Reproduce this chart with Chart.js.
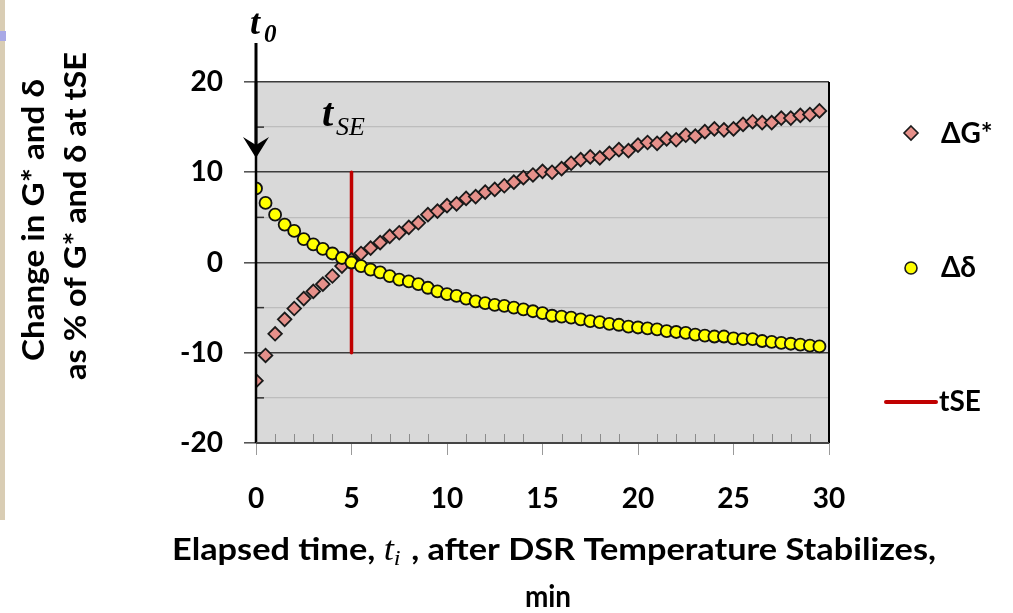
<!DOCTYPE html>
<html>
<head>
<meta charset="utf-8">
<script src="https://cdn.jsdelivr.net/npm/chart.js@4/dist/chart.umd.min.js"></script>
<style>
html,body{margin:0;padding:0;background:#fff;}
#wrap{position:relative;width:1013px;height:613px;}
#strip{position:absolute;left:0;top:0;width:5px;height:520px;background:#d9cdb4;}
#blip{position:absolute;left:0;top:31px;width:6px;height:10px;background:#a9a9e6;}
canvas{position:absolute;left:0;top:0;}
</style>
</head>
<body>
<div id="wrap">
<div id="strip"></div><div id="blip"></div>
<canvas id="c" width="1013" height="613"></canvas>
</div>
<script>
const times = [0,0.5,1,1.5,2,2.5,3,3.5,4,4.5,5,5.5,6,6.5,7,7.5,8,8.5,9,9.5,
  10,10.5,11,11.5,12,12.5,13,13.5,14,14.5,15,15.5,16,16.5,17,17.5,18,18.5,19,19.5,
  20,20.5,21,21.5,22,22.5,23,23.5,24,24.5,25,25.5,26,26.5,27,27.5,28,28.5,29,29.5];
const deltaG = [-13.1,-10.3,-7.9,-6.3,-5.1,-4.0,-3.2,-2.4,-1.5,-0.4,0.3,1.0,1.6,2.2,2.9,3.3,3.9,4.4,5.3,5.7,
  6.3,6.5,7.1,7.3,7.8,8.1,8.5,8.9,9.4,9.7,10.1,10.0,10.4,11.0,11.4,11.7,11.6,12.1,12.5,12.4,
  13.0,13.3,13.2,13.7,13.6,14.1,14.0,14.5,14.8,14.7,14.8,15.3,15.6,15.5,15.5,16.0,16.0,16.3,16.4,16.8];
const deltaDelta = [8.2,6.6,5.3,4.2,3.5,2.6,2.0,1.5,1.0,0.5,0.0,-0.4,-0.8,-1.1,-1.5,-1.9,-2.1,-2.4,-2.8,-3.2,
  -3.5,-3.7,-4.0,-4.3,-4.5,-4.7,-4.8,-5.0,-5.2,-5.4,-5.6,-5.9,-6.0,-6.1,-6.3,-6.5,-6.6,-6.8,-6.9,-7.1,
  -7.2,-7.3,-7.4,-7.6,-7.7,-7.8,-8.0,-8.1,-8.2,-8.2,-8.4,-8.5,-8.5,-8.7,-8.8,-8.9,-9.0,-9.1,-9.2,-9.3];
const tseTime = [5,5];
const tseRange = [-10,10];
const xTicks = [0,5,10,15,20,25,30];
const yTicks = [-20,-10,0,10,20];
const seriesNames = ['\u0394G*','\u0394\u03b4','tSE'];

const FONT = 'Lato, "Open Sans", sans-serif';
const SERIF = '"Liberation Serif", "DejaVu Serif", serif';

function pts(xs, ys){ return xs.map((x,i)=>({x:x,y:ys[i]})); }

function drawSegments(ctx, segs, cx, baseY, targetW){
  let w = 0;
  segs.forEach(s=>{ ctx.font = s.font; s.w = ctx.measureText(s.text).width; w += s.w + (s.gap||0); });
  const sx = targetW ? targetW / w : 1;
  ctx.save();
  ctx.translate(cx - (w*sx)/2, baseY);
  ctx.scale(sx, 1);
  let x = 0;
  segs.forEach(s=>{ ctx.font = s.font; ctx.fillText(s.text, x, s.dy||0); x += s.w + (s.gap||0); });
  ctx.restore();
}

const deco = {
  id:'deco',
  beforeDraw(chart){
    const {ctx, chartArea:a} = chart;
    ctx.save(); ctx.fillStyle = '#d9d9d9';
    ctx.fillRect(a.left, a.top, a.right-a.left, a.bottom-a.top);
    ctx.restore();
  },
  afterDraw(chart){
    const {ctx, chartArea:a, scales} = chart;
    const xs = scales.x, ys = scales.y;
    ctx.save();
    // minor x ticks inside
    ctx.strokeStyle = '#8c8c8c'; ctx.lineWidth = 1;
    for (let v = 1; v < 30; v++){
      if (v % 5 === 0) continue;
      const px = Math.round(xs.getPixelForValue(v)) + 0.5;
      ctx.beginPath(); ctx.moveTo(px, a.bottom); ctx.lineTo(px, a.bottom - 9); ctx.stroke();
    }
    // minor y ticks inside
    ctx.strokeStyle = '#333'; ctx.lineWidth = 1.5;
    [-15,-5,5,15].forEach(v=>{
      const py = ys.getPixelForValue(v);
      ctx.beginPath(); ctx.moveTo(a.left, py); ctx.lineTo(a.left + 8, py); ctx.stroke();
    });
    // borders
    ctx.strokeStyle = '#000'; ctx.lineWidth = 2.5;
    ctx.beginPath(); ctx.moveTo(a.left, a.top); ctx.lineTo(a.left, a.bottom); ctx.stroke();
    ctx.lineWidth = 2;
    ctx.beginPath(); ctx.moveTo(a.right, a.top); ctx.lineTo(a.right, a.bottom); ctx.stroke();
    ctx.strokeStyle = '#444'; ctx.lineWidth = 2;
    ctx.beginPath(); ctx.moveTo(a.left, a.bottom); ctx.lineTo(a.right, a.bottom); ctx.stroke();

    // t0 arrow
    const x0 = xs.getPixelForValue(0);
    ctx.strokeStyle = '#000'; ctx.fillStyle = '#000'; ctx.lineWidth = 3;
    ctx.beginPath(); ctx.moveTo(x0, 43); ctx.lineTo(x0, 150); ctx.stroke();
    ctx.beginPath();
    ctx.moveTo(x0, 158); ctx.lineTo(x0 - 13, 137); ctx.lineTo(x0, 145); ctx.lineTo(x0 + 13, 137); ctx.closePath();
    ctx.fill();
    ctx.fillStyle = '#000'; ctx.textBaseline = 'alphabetic'; ctx.textAlign = 'left';
    ctx.font = 'italic bold 36px ' + SERIF; ctx.fillText('t', 250, 34);
    ctx.font = 'italic bold 25px ' + SERIF; ctx.fillText('0', 264, 42);
    // tSE label
    ctx.font = 'italic bold 40px ' + SERIF; ctx.fillText('t', 322, 126);
    ctx.font = 'italic 26px ' + SERIF; ctx.fillText('SE', 336, 135);

    // axis titles
    ctx.fillStyle = '#000';
    ctx.textAlign = 'left'; ctx.textBaseline = 'middle';
    ctx.save(); ctx.translate(34, 220); ctx.rotate(-Math.PI/2);
    drawSegments(ctx, [{text:'Change in G* and \u03b4', font:'bold 30px '+FONT}], 0, 0, 282);
    ctx.restore();
    ctx.save(); ctx.translate(76, 216); ctx.rotate(-Math.PI/2);
    drawSegments(ctx, [{text:'as % of G* and \u03b4 at tSE', font:'bold 30px '+FONT}], 0, 0, 328);
    ctx.restore();
    ctx.textBaseline = 'alphabetic';
    drawSegments(ctx, [
      {text:'Elapsed time, ', font:'bold 31px '+FONT},
      {text:'t', font:'italic 33px '+SERIF},
      {text:'i', font:'italic 22px '+SERIF, dy:5, gap:2},
      {text:' , after DSR Temperature Stabilizes,', font:'bold 31px '+FONT}
    ], 554, 560, 764);
    ctx.save(); ctx.translate(548, 607); ctx.scale(0.9, 1);
    ctx.font = 'bold 31px ' + FONT; ctx.textAlign = 'center';
    ctx.fillText('min', 0, 0);
    ctx.restore();

    // legend
    ctx.textAlign = 'left'; ctx.textBaseline = 'middle';
    ctx.font = 'bold 28px ' + FONT;
    // diamond
    ctx.fillStyle = '#e6908a'; ctx.strokeStyle = '#1a1a1a'; ctx.lineWidth = 1.6;
    ctx.beginPath(); ctx.moveTo(911,126); ctx.lineTo(918,133); ctx.lineTo(911,140); ctx.lineTo(904,133); ctx.closePath();
    ctx.fill(); ctx.stroke();
    ctx.fillStyle = '#000'; ctx.fillText(seriesNames[0], 941, 134);
    // circle
    ctx.fillStyle = '#ffff00'; ctx.beginPath(); ctx.arc(911, 268, 6, 0, Math.PI*2); ctx.fill(); ctx.stroke();
    ctx.fillStyle = '#000'; ctx.fillText(seriesNames[1], 941, 268);
    // line
    ctx.strokeStyle = '#c00000'; ctx.lineWidth = 4; ctx.lineCap = 'round';
    ctx.beginPath(); ctx.moveTo(886, 402); ctx.lineTo(936, 402); ctx.stroke();
    ctx.fillStyle = '#000'; ctx.fillText(seriesNames[2], 939, 402);
    ctx.restore();
  }
};

new Chart(document.getElementById('c'), {
  type: 'scatter',
  data: {
    datasets: [
      { label: seriesNames[1], data: pts(times, deltaDelta), order: 0,
        pointStyle: 'circle', pointRadius: 6, pointBackgroundColor: '#ffff00',
        pointBorderColor: '#111', pointBorderWidth: 1.8, showLine: false },
      { label: seriesNames[0], data: pts(times, deltaG), order: 1,
        pointStyle: 'rectRot', pointRadius: 6.8, pointBackgroundColor: '#e6908a',
        pointBorderColor: '#1a1a1a', pointBorderWidth: 1.8, showLine: false },
      { label: seriesNames[2], data: pts(tseTime, tseRange), order: 2,
        showLine: true, borderColor: '#c00000', borderWidth: 3.5, pointRadius: 0,
        borderCapStyle: 'round' }
    ]
  },
  options: {
    responsive: false, animation: false, devicePixelRatio: 1,
    layout: { padding: { left: 0, top: 82, right: 184, bottom: 0 } },
    plugins: { legend: { display: false }, tooltip: { enabled: false } },
    scales: {
      x: {
        type: 'linear', min: 0, max: 30,
        afterFit(s){ s.height = 170; },
        afterBuildTicks(s){ s.ticks = xTicks.map(v=>({value:v})); },
        border: { display: false },
        grid: { drawOnChartArea: false, drawTicks: true, tickLength: 12, color: '#9a9a9a', lineWidth: 1 },
        ticks: { color: '#000', font: { family: FONT, size: 28, weight: 'bold' }, padding: 27, maxRotation: 0 }
      },
      y: {
        type: 'linear', min: -20, max: 20,
        afterFit(s){ s.width = 256; },
        afterBuildTicks(s){ s.ticks = [-20,-15,-10,-5,0,5,10,15,20].map(v=>({value:v})); },
        border: { display: false },
        grid: {
          color: (c)=> (c.tick && c.tick.value % 10 === 0) ? '#3c3c3c' : '#bdbdbd',
          lineWidth: (c)=> (c.tick && c.tick.value % 10 === 0) ? 1.6 : 1.3,
          tickColor: (c)=> (c.tick && c.tick.value % 10 === 0) ? '#555' : 'rgba(0,0,0,0)',
          tickLength: 12
        },
        ticks: {
          color: '#000', font: { family: FONT, size: 28, weight: 'bold' }, padding: 21,
          callback: (v)=> yTicks.includes(v) ? String(v) : ''
        }
      }
    }
  },
  plugins: [deco]
});
</script>
</body>
</html>
